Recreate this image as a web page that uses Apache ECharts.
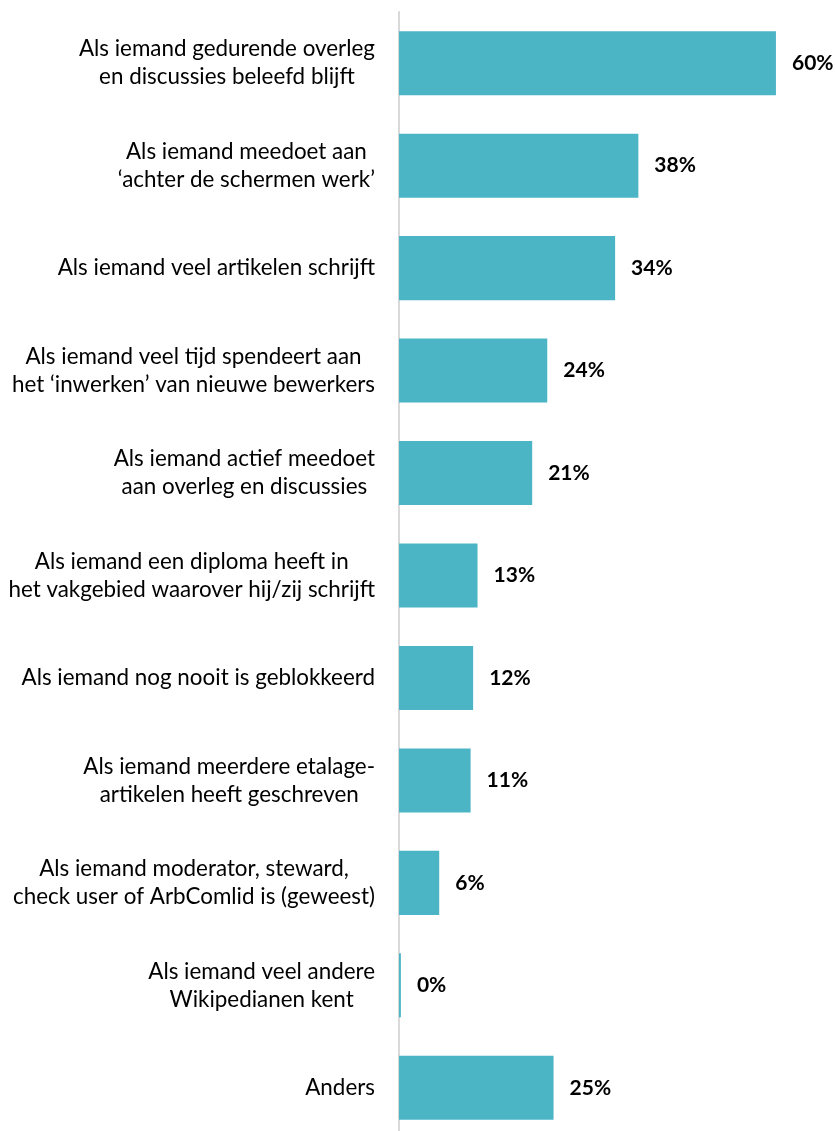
<!DOCTYPE html>
<html><head><meta charset="utf-8">
<script src="https://cdn.jsdelivr.net/npm/echarts@6/dist/echarts.min.js"></script>
<style>html,body{margin:0;padding:0;background:#fff}#c{width:835px;height:1131px}</style>
</head><body><div id="c"></div>
<script>
const categories = [
  "Als iemand gedurende overleg\nen discussies beleefd blijft",
  "Als iemand meedoet aan\n‘achter de schermen werk’",
  "Als iemand veel artikelen schrijft",
  "Als iemand veel tijd spendeert aan\nhet ‘inwerken’ van nieuwe bewerkers",
  "Als iemand actief meedoet\naan overleg en discussies",
  "Als iemand een diploma heeft in\nhet vakgebied waarover hij/zij schrijft",
  "Als iemand nog nooit is geblokkeerd",
  "Als iemand meerdere etalage-\nartikelen heeft geschreven",
  "Als iemand moderator, steward,\ncheck user of ArbComlid is (geweest)",
  "Als iemand veel andere\nWikipedianen kent",
  "Anders"
];
// values (labels show rounded percentages)
const values = [60, 38.1, 34.4, 23.6, 21.2, 12.5, 11.8, 11.4, 6.4, 0.3, 24.6];

const chart = echarts.init(document.getElementById('c'), null, {renderer: 'canvas'});
chart.setOption({
  animation: false,
  backgroundColor: '#fff',
  grid: {left: 399, top: 12, width: 436, height: 1127, containLabel: false, outerBoundsMode: 'none'},
  xAxis: {
    type: 'value', min: 0, max: 69.4, show: false
  },
  yAxis: {
    type: 'category', data: categories, inverse: true,
    axisLine: {show: true, lineStyle: {color: '#d9d9d9', width: 2}},
    axisTick: {show: false},
    splitLine: {show: false},
    axisLabel: {
      margin: 24,
      align: 'right',
      color: '#000',
      fontFamily: 'Lato',
      fontSize: 22.4,
      lineHeight: 28,
      formatter: function (v) {
        return v.split('\n').map(function (l) { return '{c|' + l + '}'; }).join('\n');
      },
      rich: {c: {align: 'center', fontFamily: 'Lato', fontSize: 22.4, lineHeight: 28, color: '#000'}}
    }
  },
  series: [{
    type: 'bar', data: values, barWidth: '62.5%',
    itemStyle: {color: '#4BB5C6'},
    label: {
      show: true, position: 'right', distance: 16,
      fontFamily: 'Lato', fontWeight: 'bold', fontSize: 21, color: '#000',
      formatter: function (p) { return Math.round(p.value) + '%'; }
    }
  }]
});
</script></body></html>
